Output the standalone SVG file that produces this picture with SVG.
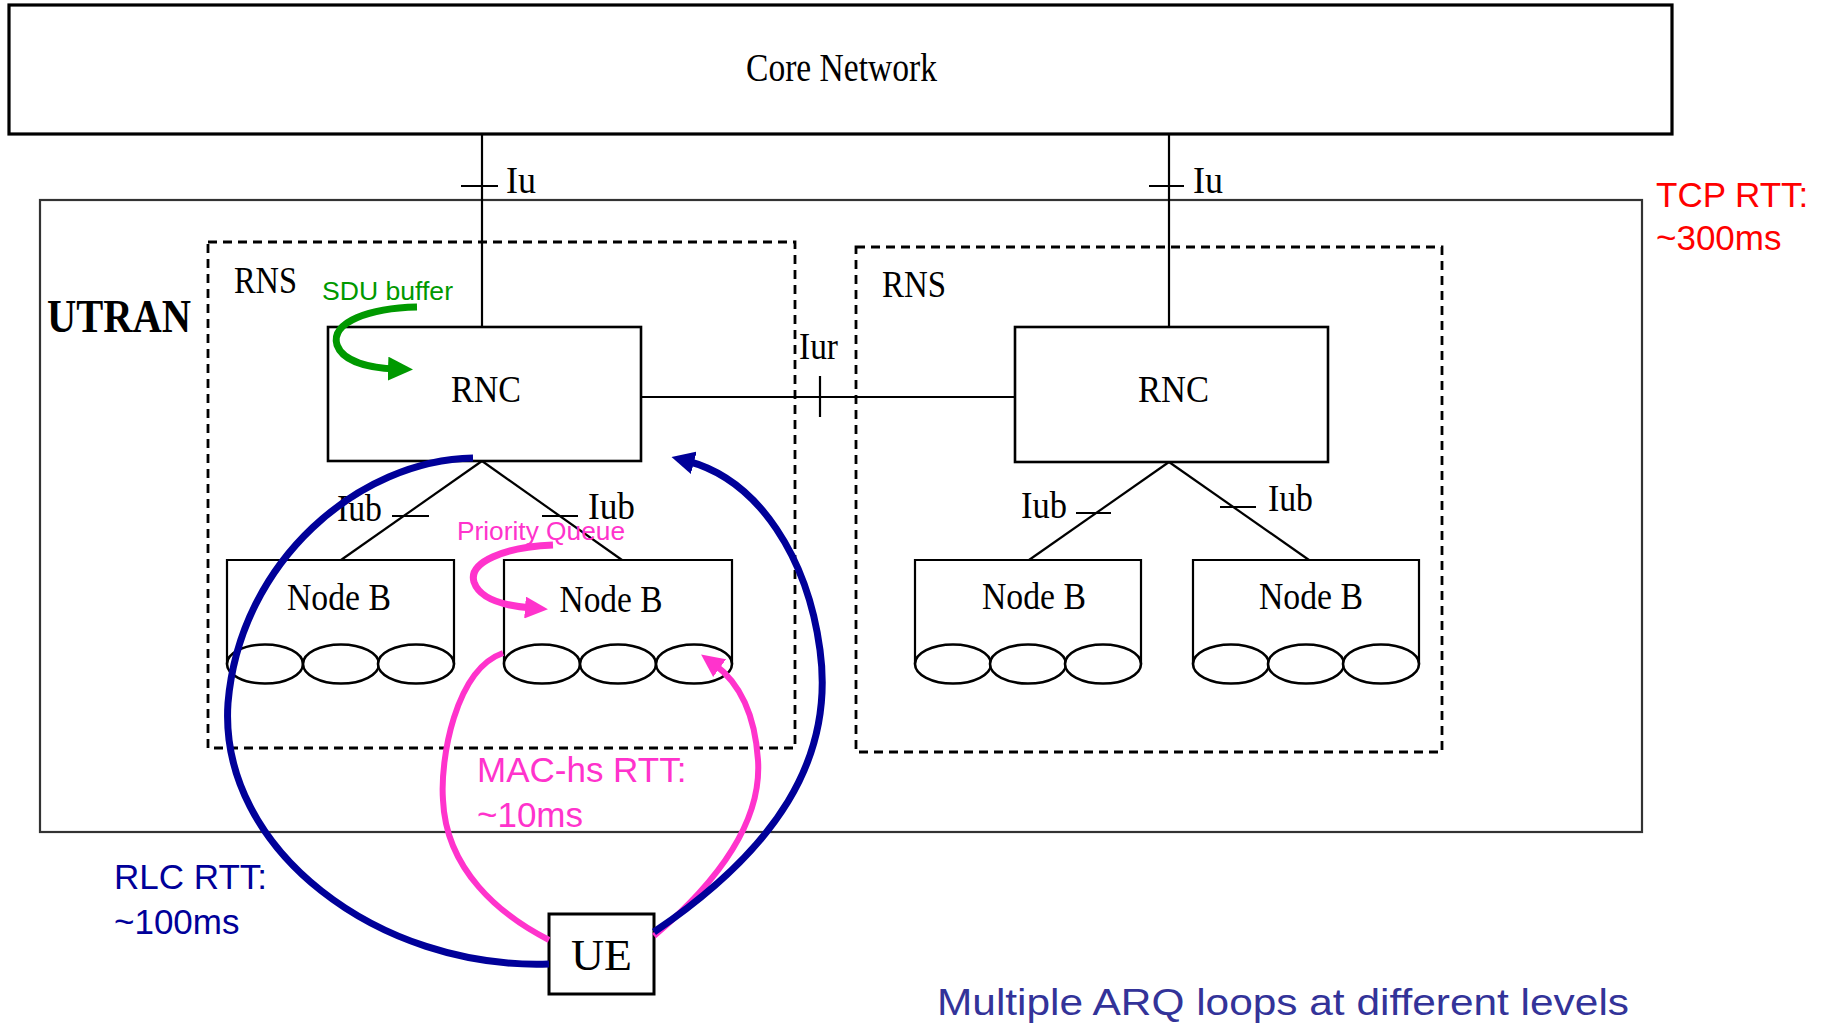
<svg xmlns="http://www.w3.org/2000/svg" width="1836" height="1027" viewBox="0 0 1836 1027">
<defs>
<style>
.ln{stroke:#000;stroke-width:2.2;fill:none}
.bx{stroke:#000;stroke-width:2.6;fill:#fff}
.dash{stroke:#000;stroke-width:2.8;fill:none;stroke-dasharray:9,6}
.tm{font-family:"Liberation Serif","Times New Roman",serif;fill:#000}
.ar{font-family:"Liberation Sans",Arial,sans-serif}
.el{stroke:#000;stroke-width:2.6;fill:#fff}
</style>
<marker id="mGreen" markerUnits="userSpaceOnUse" viewBox="0 0 25 24" markerWidth="25" markerHeight="24" refX="9" refY="12" orient="auto"><path d="M0,0 L25,12 L0,24 z" fill="#009900"/></marker>
<marker id="mPink" markerUnits="userSpaceOnUse" viewBox="0 0 23 22" markerWidth="23" markerHeight="22" refX="7" refY="11" orient="auto"><path d="M0,0 L23,11 L0,22 z" fill="#FF33CC"/></marker>
<marker id="mBlue" markerUnits="userSpaceOnUse" viewBox="0 0 23 23" markerWidth="23" markerHeight="23" refX="7" refY="11.5" orient="auto"><path d="M0,0 L23,11.5 L0,23 z" fill="#000099"/></marker>
</defs>
<rect width="1836" height="1027" fill="#fff"/>

<g id="utran">
<rect x="40" y="200" width="1602" height="632" fill="none" stroke="#333" stroke-width="2.2"/>
<text class="tm" x="47" y="332" font-size="46" font-weight="bold" textLength="144" lengthAdjust="spacingAndGlyphs">UTRAN</text>
</g>

<g id="core-network">
<rect x="9" y="5" width="1663" height="129" fill="#fff" stroke="#000" stroke-width="3.2"/>
<text class="tm" x="746" y="81" font-size="40" textLength="191" lengthAdjust="spacingAndGlyphs">Core Network</text>
</g>

<g id="rns-left">
<rect class="dash" x="208" y="242" width="587" height="506"/>
<text class="tm" x="234" y="293" font-size="38" textLength="63" lengthAdjust="spacingAndGlyphs">RNS</text>
</g>
<g id="rns-right">
<rect class="dash" x="856" y="247" width="586" height="505"/>
<text class="tm" x="882" y="297" font-size="38" textLength="64" lengthAdjust="spacingAndGlyphs">RNS</text>
</g>

<g id="connectors">
<line class="ln" x1="482" y1="134" x2="482" y2="327"/>
<line class="ln" x1="461" y1="186" x2="498" y2="186"/>
<line class="ln" x1="1169" y1="134" x2="1169" y2="327"/>
<line class="ln" x1="1149" y1="186" x2="1184" y2="186"/>
<line class="ln" x1="641" y1="397" x2="1015" y2="397"/>
<line class="ln" x1="820" y1="376" x2="820" y2="417"/>
<line class="ln" x1="482" y1="461" x2="341" y2="560"/>
<line class="ln" x1="482" y1="461" x2="622" y2="560"/>
<line class="ln" x1="392" y1="516" x2="429" y2="516"/>
<line class="ln" x1="542" y1="516" x2="578" y2="516"/>
<line class="ln" x1="1169" y1="462" x2="1029" y2="560"/>
<line class="ln" x1="1169" y1="462" x2="1309" y2="560"/>
<line class="ln" x1="1076" y1="513" x2="1111" y2="513"/>
<line class="ln" x1="1220" y1="507" x2="1256" y2="507"/>
<text class="tm" x="506" y="193" font-size="38" textLength="30" lengthAdjust="spacingAndGlyphs">Iu</text>
<text class="tm" x="1193" y="193" font-size="38" textLength="30" lengthAdjust="spacingAndGlyphs">Iu</text>
<text class="tm" x="799" y="359" font-size="38" textLength="39" lengthAdjust="spacingAndGlyphs">Iur</text>
<text class="tm" x="337" y="521" font-size="38" textLength="45" lengthAdjust="spacingAndGlyphs">Iub</text>
<text class="tm" x="588" y="519" font-size="38" textLength="47" lengthAdjust="spacingAndGlyphs">Iub</text>
<text class="tm" x="1021" y="518" font-size="38" textLength="46" lengthAdjust="spacingAndGlyphs">Iub</text>
<text class="tm" x="1268" y="511" font-size="38" textLength="45" lengthAdjust="spacingAndGlyphs">Iub</text>
</g>

<g id="rnc-left">
<rect class="bx" x="328" y="327" width="313" height="134"/>
<text class="tm" x="451" y="402" font-size="38" textLength="70" lengthAdjust="spacingAndGlyphs">RNC</text>
</g>
<g id="rnc-right">
<rect class="bx" x="1015" y="327" width="313" height="135"/>
<text class="tm" x="1138" y="402" font-size="38" textLength="71" lengthAdjust="spacingAndGlyphs">RNC</text>
</g>

<g id="nodeb-1">
<path class="ln" d="M227,664 V560 H454 V664" stroke-width="2.6"/>
<ellipse class="el" cx="265" cy="664" rx="38" ry="19.5"/>
<ellipse class="el" cx="341" cy="664" rx="38" ry="19.5"/>
<ellipse class="el" cx="416" cy="664" rx="38" ry="19.5"/>
<text class="tm" x="339" y="610" font-size="38" text-anchor="middle" textLength="104" lengthAdjust="spacingAndGlyphs">Node B</text>
</g>
<g id="nodeb-2">
<path class="ln" d="M504,664 V560 H732 V664" stroke-width="2.6"/>
<ellipse class="el" cx="542" cy="664" rx="38" ry="19.5"/>
<ellipse class="el" cx="618" cy="664" rx="38" ry="19.5"/>
<ellipse class="el" cx="694" cy="664" rx="38" ry="19.5"/>
<text class="tm" x="611" y="612" font-size="38" text-anchor="middle" textLength="103" lengthAdjust="spacingAndGlyphs">Node B</text>
</g>
<g id="nodeb-3">
<path class="ln" d="M915,664 V560 H1141 V664" stroke-width="2.6"/>
<ellipse class="el" cx="953" cy="664" rx="38" ry="19.5"/>
<ellipse class="el" cx="1028" cy="664" rx="38" ry="19.5"/>
<ellipse class="el" cx="1103" cy="664" rx="38" ry="19.5"/>
<text class="tm" x="1034" y="609" font-size="38" text-anchor="middle" textLength="104" lengthAdjust="spacingAndGlyphs">Node B</text>
</g>
<g id="nodeb-4">
<path class="ln" d="M1193,664 V560 H1419 V664" stroke-width="2.6"/>
<ellipse class="el" cx="1231" cy="664" rx="38" ry="19.5"/>
<ellipse class="el" cx="1306" cy="664" rx="38" ry="19.5"/>
<ellipse class="el" cx="1381" cy="664" rx="38" ry="19.5"/>
<text class="tm" x="1311" y="609" font-size="38" text-anchor="middle" textLength="104" lengthAdjust="spacingAndGlyphs">Node B</text>
</g>

<g id="ue">
<rect x="549" y="914" width="105" height="80" fill="#fff" stroke="#000" stroke-width="3"/>
<text class="tm" x="571" y="970" font-size="45" textLength="61" lengthAdjust="spacingAndGlyphs">UE</text>
</g>

<g id="loops">
<path d="M417,307 C370,308 330,322 337,345 C343,362 370,368 397,369" fill="none" stroke="#009900" stroke-width="7" marker-end="url(#mGreen)"/>
<path d="M553,545 C505,547 468,562 474,582 C480,600 505,606 532,608" fill="none" stroke="#FF33CC" stroke-width="7" marker-end="url(#mPink)"/>
<path d="M503,653 C455,670 440,760 443,800 C446,870 500,915 549,940" fill="none" stroke="#FF33CC" stroke-width="6"/>
<path d="M654,936 C720,880 762,820 758,760 C755,715 740,683 714,664" fill="none" stroke="#FF33CC" stroke-width="6" marker-end="url(#mPink)"/>
<path d="M473,458 C360,460 240,560 228,703 C218,850 380,970 549,964" fill="none" stroke="#000099" stroke-width="7"/>
<path d="M654,932 C775,850 835,760 820,650 C808,560 760,480 687,461" fill="none" stroke="#000099" stroke-width="7" marker-end="url(#mBlue)"/>
</g>

<g id="labels">
<text class="ar" x="322" y="300" font-size="25" fill="#009900" textLength="131" lengthAdjust="spacingAndGlyphs">SDU buffer</text>
<text class="ar" x="457" y="540" font-size="26" fill="#FF33CC" textLength="168" lengthAdjust="spacingAndGlyphs">Priority Queue</text>
<text class="ar" x="1656" y="207" font-size="35" fill="#FF0000">TCP RTT:</text>
<text class="ar" x="1656" y="250" font-size="35" fill="#FF0000">~300ms</text>
<text class="ar" x="477" y="782" font-size="35" fill="#FF33CC">MAC-hs RTT:</text>
<text class="ar" x="477" y="827" font-size="35" fill="#FF33CC">~10ms</text>
<text class="ar" x="114" y="889" font-size="35" fill="#000099">RLC RTT:</text>
<text class="ar" x="114" y="934" font-size="35" fill="#000099">~100ms</text>
<text class="ar" x="937" y="1015" font-size="37" fill="#333399" textLength="692" lengthAdjust="spacingAndGlyphs">Multiple ARQ loops at different levels</text>
</g>
</svg>
